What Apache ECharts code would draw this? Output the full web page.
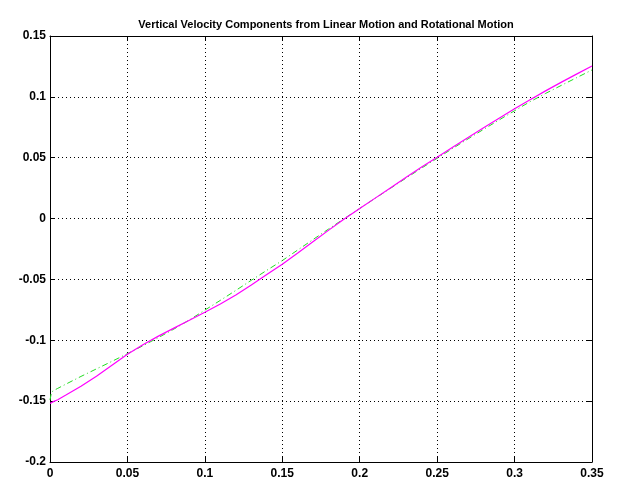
<!DOCTYPE html>
<html>
<head>
<meta charset="utf-8">
<script src="https://cdn.jsdelivr.net/npm/echarts@6/dist/echarts.min.js"></script>
<style>
    html, body { margin: 0; padding: 0; background: #fff; }
    #chart { width: 622px; height: 495px; }
</style>
</head>
<body>
<div id="chart"></div>
<script>
// sample positions (s)
var xs = [0, 0.001, 0.0025, 0.005, 0.01, 0.02, 0.03, 0.04, 0.05, 0.06, 0.07, 0.08, 0.09,
    0.10, 0.11, 0.12, 0.13, 0.14, 0.15, 0.16, 0.17, 0.18, 0.19, 0.20, 0.21, 0.22, 0.23,
    0.24, 0.25, 0.26, 0.27, 0.28, 0.29, 0.30, 0.31, 0.32, 0.33, 0.34, 0.35];
// linear motion (magenta, solid)
var linearVel = [-0.152, -0.1512, -0.1502, -0.1488, -0.1452, -0.1378, -0.1295, -0.1205, -0.1115,
    -0.1036, -0.0966, -0.0900, -0.0835, -0.0770, -0.0702, -0.0628, -0.0545, -0.0460, -0.0375,
    -0.0283, -0.0189, -0.0095, -0.0003, 0.0082, 0.0168, 0.0254, 0.0340, 0.0423, 0.0503,
    0.0585, 0.0666, 0.0746, 0.0825, 0.0902, 0.0977, 0.1049, 0.1119, 0.1187, 0.1253];
// rotational motion (green, dash-dot)
var rotVel = [-0.149, -0.1425, -0.1412, -0.1395, -0.1362, -0.1297, -0.1235, -0.1173, -0.1110,
    -0.1045, -0.0978, -0.0908, -0.0833, -0.0752, -0.0672, -0.0590, -0.0507, -0.0425, -0.0345,
    -0.0258, -0.0171, -0.0085, 0.0000, 0.0083, 0.0167, 0.0250, 0.0333, 0.0415, 0.0495,
    0.0576, 0.0655, 0.0733, 0.0810, 0.0886, 0.0960, 0.1028, 0.1093, 0.1157, 0.1221];
var xTicks = [0, 0.05, 0.1, 0.15, 0.2, 0.25, 0.3, 0.35];
var yTicks = [-0.2, -0.15, -0.1, -0.05, 0, 0.05, 0.1, 0.15];

var font = "'Liberation Sans', Arial, Helvetica, sans-serif";

function pairs(x, y) {
    var out = [];
    for (var i = 0; i < x.length; i++) {
        out.push([x[i], y[i]]);
    }
    return out;
}

function fmt(v) {
    // MATLAB style tick labels: 0.05, -0.1, 0
    return String(Math.round(v * 1000) / 1000);
}

var axisBase = {
    type: 'value',
    axisLine: { show: true, onZero: false, lineStyle: { color: '#000', width: 1 } },
    axisTick: { show: true, inside: true, length: 5, lineStyle: { color: '#000' } }
};

var chart = echarts.init(document.getElementById('chart'));
var option = {
    backgroundColor: '#fff',
    animation: false,
    title: {
        text: 'Vertical Velocity Components from Linear Motion and Rotational Motion',
        left: 321,
        textAlign: 'center',
        top: 14,
        textStyle: { fontFamily: font, fontSize: 11, fontWeight: 'bold', color: '#000' }
    },
    grid: { left: 50, right: 30, top: 36, bottom: 33 },
    xAxis: [
        Object.assign({}, axisBase, {
            position: 'bottom',
            min: xTicks[0], max: xTicks[xTicks.length - 1], interval: 0.05,
            axisLabel: { color: '#000', fontFamily: font, fontSize: 12, fontWeight: 'bold', margin: 6, formatter: fmt },
            splitLine: { show: true, lineStyle: { color: '#000', type: [1, 3], width: 1 } }
        }),
        Object.assign({}, axisBase, {
            position: 'top',
            min: xTicks[0], max: xTicks[xTicks.length - 1], interval: 0.05,
            axisLabel: { show: false },
            splitLine: { show: false }
        })
    ],
    yAxis: [
        Object.assign({}, axisBase, {
            position: 'left',
            min: yTicks[0], max: yTicks[yTicks.length - 1], interval: 0.05,
            axisLabel: { color: '#000', fontFamily: font, fontSize: 12, fontWeight: 'bold', margin: 4, formatter: fmt },
            splitLine: { show: true, lineStyle: { color: '#000', type: [1, 3], width: 1 } }
        }),
        Object.assign({}, axisBase, {
            position: 'right',
            min: yTicks[0], max: yTicks[yTicks.length - 1], interval: 0.05,
            axisLabel: { show: false },
            splitLine: { show: false }
        })
    ],
    series: [
        {
            name: 'Rotational Motion',
            type: 'line',
            data: pairs(xs, rotVel),
            showSymbol: false,
            lineStyle: { color: '#22dd22', width: 1, type: [6, 3, 1, 3] }
        },
        {
            name: 'Linear Motion',
            type: 'line',
            data: pairs(xs, linearVel),
            showSymbol: false,
            lineStyle: { color: '#ff00ff', width: 1.2 }
        }
    ]
};
chart.setOption(option);
</script>
</body>
</html>
